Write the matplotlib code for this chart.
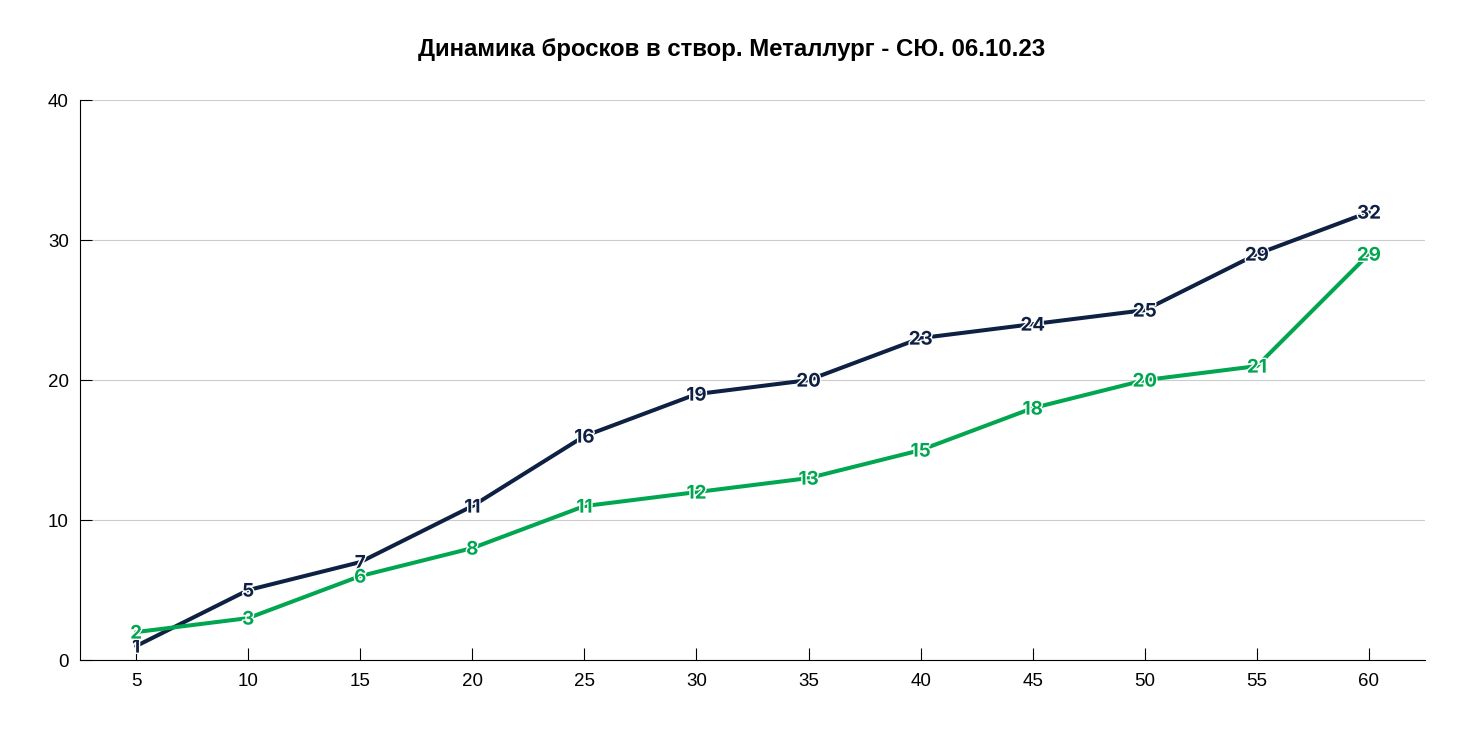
import matplotlib.pyplot as plt
import matplotlib.patheffects as pe

minutes = ['5', '10', '15', '20', '25', '30', '35', '40', '45', '50', '55', '60']
metallurg = [1, 5, 7, 11, 16, 19, 20, 23, 24, 25, 29, 32]
syu = [2, 3, 6, 8, 11, 12, 13, 15, 18, 20, 21, 29]

navy = '#0f2142'
green = '#00a650'

fig, ax = plt.subplots(figsize=(14.63, 7.31), dpi=100)
fig.subplots_adjust(left=0.0547, right=0.974, top=0.863, bottom=0.097)

x = list(range(len(minutes)))
ax.plot(x, metallurg, color=navy, linewidth=2.9, solid_capstyle='round', zorder=3)
ax.plot(x, syu, color=green, linewidth=2.9, solid_capstyle='round', zorder=3)

# value labels sit on the points with a thin white outline
for vals, col in ((metallurg, navy), (syu, green)):
    for xi, v in zip(x, vals):
        ax.text(xi, v, str(v), color=col, ha='center', va='center_baseline',
                fontsize=13.5, fontweight='bold', family='Inter', zorder=4,
                path_effects=[pe.withStroke(linewidth=2, foreground='white')])

ax.set_xlim(-0.5, len(minutes) - 0.5)
ax.set_ylim(0, 40)
ax.set_xticks(x)
ax.set_xticklabels(minutes)
ax.set_yticks([0, 10, 20, 30, 40])
ax.grid(axis='y', color='#cccccc', linewidth=0.8)
ax.set_axisbelow(True)

for s in ('top', 'right'):
    ax.spines[s].set_visible(False)
ax.spines['left'].set_color('black')
ax.spines['bottom'].set_color('black')
ax.tick_params(axis='both', direction='in', labelsize=13.5, length=8.5, width=0.8)
ax.tick_params(axis='x', pad=9.5)
ax.tick_params(axis='y', pad=8)
for lab in ax.get_xticklabels() + ax.get_yticklabels():
    lab.set_family('Liberation Sans')

fig.suptitle('Динамика бросков в створ. Металлург - СЮ. 06.10.23',
             x=0.5, y=0.932, va='center', fontsize=17.3, fontweight='bold',
             family='Liberation Sans')

plt.savefig('out.png', dpi=100)
plt.close()
